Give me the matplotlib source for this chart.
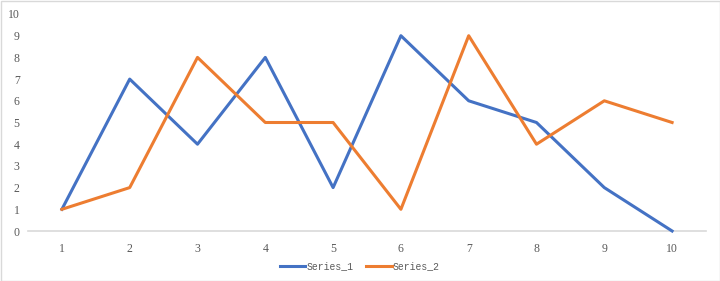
import matplotlib.pyplot as plt
from matplotlib.patches import Rectangle

categories = [1, 2, 3, 4, 5, 6, 7, 8, 9, 10]
series_1 = [1, 7, 4, 8, 2, 9, 6, 5, 2, 0]
series_2 = [1, 2, 8, 5, 5, 1, 9, 4, 6, 5]
y_ticks = list(range(0, 11))

fig = plt.figure(figsize=(7.2, 2.81), dpi=100)
ax = fig.add_axes([28 / 720, 50 / 281, 678 / 720, 217 / 281])

ax.plot(categories, series_1, color="#4472C4", lw=2.2, label="Series_1",
        solid_joinstyle="round", clip_on=False)
ax.plot(categories, series_2, color="#ED7D31", lw=2.2, label="Series_2",
        solid_joinstyle="round", clip_on=False)

ax.set_xlim(0.5, 10.5)
ax.set_ylim(0, 10)
ax.set_xticks(categories)
ax.set_yticks(y_ticks)

tick_font = {"family": "Liberation Serif", "size": 8.5}
ax.set_xticklabels([str(c) for c in categories], fontdict=tick_font, color="#595959")
ax.set_yticklabels([str(v) for v in y_ticks], fontdict=tick_font, color="#595959")
ax.tick_params(length=0, pad=9)
ax.tick_params(axis="y", pad=6)

for side in ["top", "right", "left"]:
    ax.spines[side].set_visible(False)
ax.spines["bottom"].set_color("#D9D9D9")
ax.spines["bottom"].set_linewidth(1.2)
ax.spines["bottom"].set_zorder(0.5)
ax.patch.set_alpha(0)

leg = fig.legend(loc="center", bbox_to_anchor=(0.5, 15 / 281), ncol=2, frameon=False,
                 prop={"family": "Liberation Mono", "size": 7}, handlelength=2.6,
                 handletextpad=0.15, columnspacing=1.3)
for t in leg.get_texts():
    t.set_color("#595959")

fig.patches.append(Rectangle((0.5 / 720, 0.5 / 281), 719 / 720, 280 / 281, transform=fig.transFigure,
                             fill=False, edgecolor="#D9D9D9", lw=1))

fig.savefig("out.png", dpi=100)
